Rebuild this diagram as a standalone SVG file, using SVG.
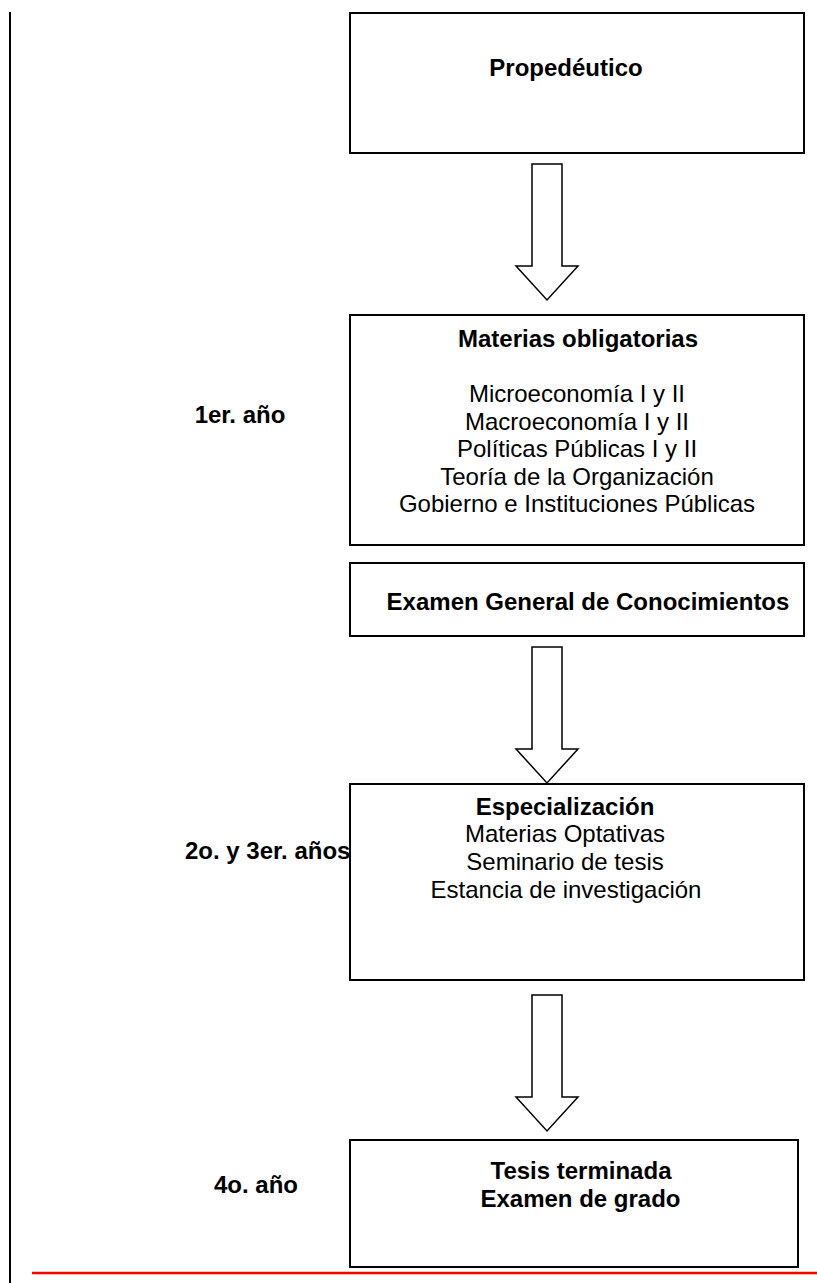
<svg xmlns="http://www.w3.org/2000/svg" width="817" height="1283" viewBox="0 0 817 1283">
<style>
.box{fill:#fff;stroke:#000;stroke-width:2}
.arr{fill:#fff;stroke:#000;stroke-width:1.5;stroke-linejoin:miter}
text{font-family:"Liberation Sans",Arial,sans-serif;font-size:24px;fill:#000}
.b{font-weight:bold}
.c{text-anchor:middle}
</style>
<rect width="817" height="1283" fill="#fff"/>
<line x1="10" y1="12" x2="10" y2="1283" stroke="#000" stroke-width="2"/>
<line x1="32" y1="1273" x2="817" y2="1273" stroke="#ff0000" stroke-width="2.6"/>
<g id="connectors">
<polygon class="arr" points="532,164 562,164 562,266 578,266 547,300 516,266 532,266"/>
<polygon class="arr" points="532,647 562,647 562,749 578,749 547,783 516,749 532,749"/>
<polygon class="arr" points="532,995 562,995 562,1097 578,1097 547,1131 516,1097 532,1097"/>
</g>
<g id="propedeutico">
<rect class="box" x="350" y="13" width="454" height="140"/>
<text class="b c" x="566" y="76">Propedéutico</text>
</g>
<g id="obligatorias">
<rect class="box" x="350" y="315" width="454" height="230"/>
<text class="b c" x="578" y="347">Materias obligatorias</text>
<text class="c" x="577" y="402">Microeconomía I y II</text>
<text class="c" x="577" y="429.5">Macroeconomía I y II</text>
<text class="c" x="577" y="457">Políticas Públicas I y II</text>
<text class="c" x="577" y="484.5">Teoría de la Organización</text>
<text class="c" x="577" y="512">Gobierno e Instituciones Públicas</text>
</g>
<g id="examen-general">
<rect class="box" x="350" y="563" width="454" height="73"/>
<text class="b c" x="588" y="610">Examen General de Conocimientos</text>
</g>
<g id="especializacion">
<rect class="box" x="350" y="784" width="454" height="196"/>
<text class="b c" x="565" y="815">Especialización</text>
<text class="c" x="565" y="842">Materias Optativas</text>
<text class="c" x="565" y="870">Seminario de tesis</text>
<text class="c" x="566" y="897.5">Estancia de investigación</text>
</g>
<g id="tesis">
<rect class="box" x="350" y="1140" width="448" height="127"/>
<text class="b c" x="581" y="1179">Tesis terminada</text>
<text class="b c" x="580.5" y="1207">Examen de grado</text>
</g>
<g id="labels">
<text class="b c" x="240" y="423">1er. año</text>
<text class="b" x="185" y="859">2o. y 3er. años</text>
<text class="b c" x="256" y="1193">4o. año</text>
</g>
</svg>
